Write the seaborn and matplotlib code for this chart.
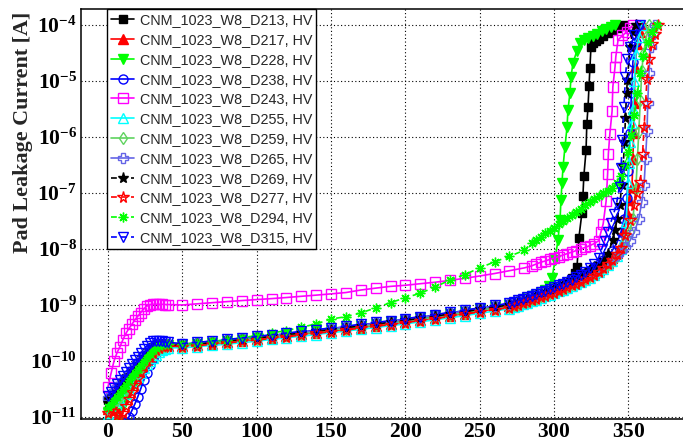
import matplotlib
matplotlib.use("Agg")
import matplotlib.pyplot as plt
from matplotlib.ticker import MultipleLocator, LogLocator, FixedLocator, FuncFormatter, NullFormatter
import numpy as np
import pandas as pd
import seaborn as sns

# ---------------------------------------------------------------------------
# Bias voltage grids [V]: fine ramp up to full depletion, then 10 V steps
# ---------------------------------------------------------------------------
LOW_V = [0, 2, 4, 6, 8, 10, 12, 14, 16, 18, 20, 22, 24, 26, 28, 30, 32, 34, 36, 38, 40]
MID_V = [50, 60, 70, 80, 90, 100, 110, 120, 130, 140, 150, 160, 170, 180, 190, 200,
         210, 220, 230, 240, 250, 260]

# Pad leakage current [A]; *_tail holds (bias, current) pairs up to compliance
d213_low = [2.0e-11, 2.3e-11, 2.7e-11, 3.1e-11, 3.6e-11, 4.2e-11, 4.9e-11, 5.7e-11, 6.6e-11, 7.7e-11,
            9.0e-11, 1.05e-10, 1.2e-10, 1.4e-10, 1.6e-10, 1.8e-10, 1.95e-10, 2.0e-10, 1.95e-10, 1.95e-10, 1.95e-10]
d213_mid = [1.95e-10, 2.05e-10, 2.17e-10, 2.3e-10, 2.45e-10, 2.62e-10, 2.8e-10, 3.0e-10, 3.22e-10, 3.45e-10,
            3.7e-10, 4.0e-10, 4.3e-10, 4.65e-10, 5.0e-10, 5.4e-10, 5.9e-10, 6.4e-10, 7.0e-10, 7.7e-10, 8.5e-10, 9.4e-10]
d213_tail = [(270, 1.03e-9), (273, 1.1e-9), (276, 1.17e-9), (279, 1.25e-9), (282, 1.33e-9), (285, 1.42e-9),
             (288, 1.52e-9), (291, 1.63e-9), (294, 1.75e-9), (297, 1.88e-9), (300, 2.02e-9), (303, 2.18e-9),
             (306, 2.37e-9), (309, 2.6e-9), (312, 3.0e-9), (314, 3.7e-9), (315.4, 4.8e-9), (316.7, 1.6e-8),
             (318.7, 4.4e-8), (319.4, 9.0e-8), (320, 2.0e-7), (321.5, 5.8e-7), (322, 1.7e-6), (322.8, 3.4e-6),
             (323.5, 8.3e-6), (324.1, 1.7e-5), (324.8, 4.1e-5), (326, 4.7e-5), (328, 5.1e-5), (330, 5.6e-5),
             (333, 6.3e-5), (336, 7.1e-5), (339, 8.0e-5), (342, 8.8e-5), (344.5, 9.5e-5), (346.3, 1.0e-4)]

d217_low = [1.4e-11, 1.6e-11, 1.9e-11, 2.2e-11, 2.6e-11, 3.0e-11, 3.5e-11, 4.1e-11, 4.8e-11, 5.6e-11,
            6.6e-11, 7.7e-11, 9.0e-11, 1.05e-10, 1.2e-10, 1.38e-10, 1.55e-10, 1.7e-10, 1.8e-10, 1.85e-10, 1.85e-10]
d217_mid = [1.85e-10, 1.93e-10, 2.03e-10, 2.15e-10, 2.28e-10, 2.43e-10, 2.6e-10, 2.78e-10, 2.98e-10, 3.2e-10,
            3.43e-10, 3.68e-10, 3.95e-10, 4.25e-10, 4.58e-10, 4.95e-10, 5.38e-10, 5.85e-10, 6.4e-10, 7.0e-10, 7.7e-10, 8.5e-10]
d217_tail = [(270, 9.4e-10), (273, 1.0e-9), (276, 1.06e-9), (279, 1.13e-9), (282, 1.2e-9), (285, 1.28e-9),
             (288, 1.37e-9), (291, 1.46e-9), (294, 1.56e-9), (297, 1.67e-9), (300, 1.79e-9), (303, 1.92e-9),
             (306, 2.06e-9), (309, 2.22e-9), (312, 2.4e-9), (315, 2.6e-9), (318, 2.83e-9), (321, 3.1e-9),
             (324, 3.4e-9), (327, 3.75e-9), (330, 4.2e-9), (333, 4.8e-9), (336, 5.6e-9), (339, 6.8e-9),
             (342, 8.6e-9), (345, 1.2e-8), (347, 2.2e-8), (349, 4.4e-8), (350.5, 7.5e-8), (352.4, 1.3e-7),
             (353, 4e-7), (353.5, 1.2e-6), (354, 4e-6), (354.4, 1.8e-5), (356, 4.5e-5), (358, 7.5e-5), (360, 1e-4)]

d228_low = [1.2e-11, 1.3e-11, 1.5e-11, 1.2e-11, 8e-12, 1.6e-11, 2.2e-11, 2.8e-11, 3.5e-11, 4.3e-11,
            5.3e-11, 6.4e-11, 7.7e-11, 9.2e-11, 1.1e-10, 1.28e-10, 1.47e-10, 1.65e-10, 1.8e-10, 1.9e-10, 1.9e-10]
d228_mid = [1.9e-10, 2.0e-10, 2.12e-10, 2.25e-10, 2.4e-10, 2.56e-10, 2.74e-10, 2.93e-10, 3.15e-10, 3.38e-10,
            3.63e-10, 3.9e-10, 4.2e-10, 4.52e-10, 4.88e-10, 5.28e-10, 5.75e-10, 6.28e-10, 6.9e-10, 7.6e-10, 8.4e-10, 9.3e-10]
d228_tail = [(270, 1.0e-9), (273, 1.07e-9), (276, 1.15e-9), (279, 1.23e-9), (282, 1.32e-9), (285, 1.42e-9),
             (288, 1.53e-9), (291, 1.67e-9), (294, 1.85e-9), (296.5, 2.2e-9), (298.6, 3.0e-9), (300.6, 6.3e-9),
             (302.6, 1.45e-8), (304, 3.3e-8), (304.6, 7.4e-8), (305.3, 1.5e-7), (306, 2.9e-7), (307.3, 6.6e-7),
             (308.7, 1.5e-6), (309.3, 3.0e-6), (310.7, 6.2e-6), (311.4, 1.2e-5), (312.7, 2.1e-5), (315.4, 3.5e-5),
             (317.4, 4.8e-5), (320, 5.3e-5), (323, 5.8e-5), (326, 6.4e-5), (329, 7.0e-5), (332, 7.7e-5),
             (335, 8.4e-5), (338, 9.2e-5), (341, 1.0e-4)]

d238_low = [6e-12, 6e-12, 6e-12, 6e-12, 6e-12, 6e-12, 8e-12, 1.0e-11, 1.3e-11, 1.7e-11,
            2.3e-11, 3.2e-11, 4.5e-11, 6.2e-11, 8.5e-11, 1.1e-10, 1.4e-10, 1.7e-10, 1.9e-10, 2.0e-10, 2.0e-10]
d238_mid = [2.0e-10, 2.1e-10, 2.22e-10, 2.36e-10, 2.51e-10, 2.68e-10, 2.87e-10, 3.07e-10, 3.3e-10, 3.54e-10,
            3.8e-10, 4.1e-10, 4.42e-10, 4.77e-10, 5.15e-10, 5.58e-10, 6.05e-10, 6.6e-10, 7.25e-10, 7.95e-10, 8.75e-10, 9.6e-10]
d238_tail = [(270, 1.05e-9), (273, 1.12e-9), (276, 1.19e-9), (279, 1.27e-9), (282, 1.35e-9), (285, 1.44e-9),
             (288, 1.54e-9), (291, 1.65e-9), (294, 1.77e-9), (297, 1.9e-9), (300, 2.04e-9), (303, 2.2e-9),
             (306, 2.37e-9), (309, 2.56e-9), (312, 2.78e-9), (315, 3.05e-9), (318, 3.35e-9), (321, 3.7e-9),
             (324, 4.15e-9), (327, 4.7e-9), (330, 5.4e-9), (333, 6.3e-9), (336, 7.5e-9), (339, 9.3e-9),
             (342, 1.25e-8), (345, 2.0e-8), (347, 3.5e-8), (349, 8e-8), (350, 2.5e-7), (351, 1.2e-6),
             (352, 6e-6), (353, 2.2e-5), (355, 5e-5), (357, 1e-4)]

d243_low = [3.5e-11, 6.0e-11, 1.0e-10, 1.4e-10, 1.8e-10, 2.4e-10, 3.1e-10, 3.8e-10, 4.5e-10, 5.4e-10,
            6.3e-10, 7.3e-10, 8.5e-10, 9.5e-10, 1.02e-9, 1.03e-9, 1.03e-9, 1.03e-9, 1.03e-9, 1.02e-9, 1.02e-9]
d243_mid = [1.0e-9, 1.05e-9, 1.1e-9, 1.15e-9, 1.2e-9, 1.25e-9, 1.3e-9, 1.36e-9, 1.43e-9, 1.5e-9,
            1.58e-9, 1.67e-9, 1.85e-9, 2.0e-9, 2.15e-9, 2.25e-9, 2.4e-9, 2.55e-9, 2.75e-9, 3.0e-9, 3.3e-9, 3.65e-9]
d243_tail = [(270, 4.1e-9), (280, 4.6e-9), (285, 5.0e-9), (288, 5.4e-9), (291, 5.8e-9), (294, 6.1e-9),
             (297, 6.5e-9), (300, 6.9e-9), (303, 7.3e-9), (306, 7.8e-9), (309, 8.3e-9), (312, 8.8e-9),
             (315, 9.4e-9), (318, 1.0e-8), (321, 1.07e-8), (324, 1.15e-8), (327, 1.25e-8), (330, 1.4e-8),
             (331.5, 2.0e-8), (333, 2.8e-8), (335, 7.2e-8), (336, 2.2e-7), (336.5, 5e-7), (337.5, 1.15e-6),
             (339, 2.9e-6), (339.5, 7.8e-6), (341, 1.8e-5), (341.5, 2.7e-5), (343, 5.4e-5), (346, 6.5e-5),
             (349, 7.6e-5), (351, 8.8e-5), (353, 1.0e-4)]

d255_low = [1.1e-11, 1.2e-11, 1.4e-11, 1.6e-11, 1.9e-11, 2.2e-11, 2.6e-11, 3.1e-11, 3.7e-11, 4.4e-11,
            5.2e-11, 6.2e-11, 7.4e-11, 8.8e-11, 1.02e-10, 1.15e-10, 1.3e-10, 1.43e-10, 1.55e-10, 1.65e-10, 1.72e-10]
d255_mid = [1.72e-10, 1.8e-10, 1.9e-10, 2.0e-10, 2.12e-10, 2.26e-10, 2.42e-10, 2.59e-10, 2.77e-10, 2.97e-10,
            3.19e-10, 3.43e-10, 3.68e-10, 3.96e-10, 4.27e-10, 4.6e-10, 5.0e-10, 5.43e-10, 5.92e-10, 6.47e-10, 7.1e-10, 7.8e-10]
d255_tail = [(270, 8.6e-10), (273, 9.1e-10), (276, 9.7e-10), (279, 1.03e-9), (282, 1.1e-9), (285, 1.17e-9),
             (288, 1.25e-9), (291, 1.33e-9), (294, 1.42e-9), (297, 1.52e-9), (300, 1.63e-9), (303, 1.75e-9),
             (306, 1.88e-9), (309, 2.02e-9), (312, 2.18e-9), (315, 2.36e-9), (318, 2.56e-9), (321, 2.8e-9),
             (324, 3.08e-9), (327, 3.42e-9), (330, 3.85e-9), (333, 4.4e-9), (336, 5.1e-9), (339, 6.1e-9),
             (342, 7.5e-9), (345, 1.0e-8), (347, 1.5e-8), (348.5, 3e-8), (349.7, 1.5e-7), (350.5, 3.5e-7),
             (351.3, 8e-7), (352.2, 1.8e-6), (353, 3.2e-6), (354, 1e-5), (355, 3e-5), (357, 6e-5), (359, 1e-4)]

d259_low = [1.3e-11, 1.5e-11, 1.7e-11, 2.0e-11, 2.3e-11, 2.7e-11, 3.2e-11, 3.8e-11, 4.5e-11, 5.3e-11,
            6.3e-11, 7.4e-11, 8.7e-11, 1.02e-10, 1.18e-10, 1.35e-10, 1.52e-10, 1.68e-10, 1.8e-10, 1.88e-10, 1.9e-10]
d259_mid = [1.88e-10, 1.97e-10, 2.08e-10, 2.2e-10, 2.34e-10, 2.5e-10, 2.67e-10, 2.86e-10, 3.07e-10, 3.3e-10,
            3.54e-10, 3.8e-10, 4.08e-10, 4.4e-10, 4.75e-10, 5.13e-10, 5.57e-10, 6.07e-10, 6.63e-10, 7.28e-10, 8.0e-10, 8.85e-10]
d259_tail = [(270, 9.2e-10), (273, 9.8e-10), (276, 1.04e-9), (279, 1.11e-9), (282, 1.18e-9), (285, 1.26e-9),
             (288, 1.35e-9), (291, 1.44e-9), (294, 1.54e-9), (297, 1.65e-9), (300, 1.77e-9), (303, 1.9e-9),
             (306, 2.04e-9), (309, 2.2e-9), (312, 2.38e-9), (315, 2.58e-9), (318, 2.8e-9), (321, 3.06e-9),
             (324, 3.36e-9), (327, 3.72e-9), (330, 4.15e-9), (333, 4.7e-9), (336, 5.4e-9), (339, 6.3e-9),
             (342, 7.6e-9), (345, 9.5e-9), (348, 1.3e-8), (351, 2e-8), (353, 3.5e-8), (355, 1.2e-7),
             (356, 4e-7), (357, 1.3e-6), (358, 4.5e-6), (359, 1.5e-5), (360, 3e-5), (362, 6e-5), (364, 1e-4)]

d265_low = [2.2e-11, 2.5e-11, 2.9e-11, 3.4e-11, 3.9e-11, 4.5e-11, 5.2e-11, 6.0e-11, 7.0e-11, 8.1e-11,
            9.4e-11, 1.09e-10, 1.26e-10, 1.45e-10, 1.65e-10, 1.85e-10, 2.0e-10, 2.05e-10, 2.0e-10, 2.0e-10, 2.0e-10]
d265_mid = [1.98e-10, 2.08e-10, 2.2e-10, 2.33e-10, 2.48e-10, 2.65e-10, 2.84e-10, 3.04e-10, 3.26e-10, 3.5e-10,
            3.76e-10, 4.05e-10, 4.36e-10, 4.7e-10, 5.07e-10, 5.5e-10, 5.97e-10, 6.5e-10, 7.1e-10, 7.8e-10, 8.6e-10, 9.5e-10]
d265_tail = [(270, 1.04e-9), (273, 1.1e-9), (276, 1.17e-9), (279, 1.25e-9), (282, 1.33e-9), (285, 1.42e-9),
             (288, 1.51e-9), (291, 1.61e-9), (294, 1.72e-9), (297, 1.84e-9), (300, 1.97e-9), (303, 2.11e-9),
             (306, 2.27e-9), (309, 2.44e-9), (312, 2.63e-9), (315, 2.85e-9), (318, 3.1e-9), (321, 3.38e-9),
             (324, 3.7e-9), (327, 4.08e-9), (330, 4.55e-9), (333, 5.1e-9), (336, 5.8e-9), (339, 6.7e-9),
             (342, 7.8e-9), (345, 9.2e-9), (348, 1.1e-8), (351, 1.4e-8), (354, 2e-8), (357, 3.5e-8),
             (359, 7e-8), (360.5, 1.4e-7), (361.5, 4e-7), (362.5, 1.3e-6), (363, 4e-6), (363.8, 1.4e-5),
             (365, 4e-5), (366.5, 7e-5), (368, 1e-4)]

d269_low = [1.8e-11, 2.1e-11, 2.4e-11, 2.8e-11, 3.3e-11, 3.8e-11, 4.4e-11, 5.1e-11, 6.0e-11, 7.0e-11,
            8.2e-11, 9.6e-11, 1.12e-10, 1.3e-10, 1.5e-10, 1.7e-10, 1.85e-10, 1.95e-10, 1.95e-10, 1.9e-10, 1.9e-10]
d269_mid = [1.92e-10, 2.02e-10, 2.13e-10, 2.26e-10, 2.41e-10, 2.57e-10, 2.75e-10, 2.95e-10, 3.17e-10, 3.4e-10,
            3.65e-10, 3.93e-10, 4.23e-10, 4.56e-10, 4.92e-10, 5.33e-10, 5.8e-10, 6.32e-10, 6.92e-10, 7.6e-10, 8.38e-10, 9.25e-10]
d269_tail = [(270, 1.0e-9), (273, 1.07e-9), (276, 1.14e-9), (279, 1.22e-9), (282, 1.3e-9), (285, 1.39e-9),
             (288, 1.49e-9), (291, 1.6e-9), (294, 1.72e-9), (297, 1.85e-9), (300, 1.99e-9), (303, 2.15e-9),
             (306, 2.33e-9), (309, 2.53e-9), (312, 2.76e-9), (315, 3.02e-9), (318, 3.33e-9), (321, 3.7e-9),
             (324, 4.15e-9), (327, 4.7e-9), (330, 5.4e-9), (333, 6.4e-9), (336, 8.2e-9), (339.6, 1.45e-8),
             (341, 2.2e-8), (342.5, 3.5e-8), (344, 6e-8), (345.7, 1.4e-7), (346.5, 3e-7), (347.3, 8e-7),
             (348, 2.2e-6), (348.7, 6e-6), (349.3, 1.05e-5), (351, 4e-5), (353, 7.5e-5), (355, 1e-4)]

d277_low = [1.2e-11, 1.4e-11, 1.3e-11, 1.1e-11, 1.0e-11, 1.2e-11, 1.6e-11, 2.1e-11, 2.8e-11, 3.7e-11,
            4.9e-11, 6.3e-11, 8.0e-11, 1.0e-10, 1.2e-10, 1.4e-10, 1.58e-10, 1.72e-10, 1.82e-10, 1.85e-10, 1.85e-10]
d277_mid = [1.8e-10, 1.88e-10, 1.98e-10, 2.1e-10, 2.23e-10, 2.37e-10, 2.53e-10, 2.71e-10, 2.9e-10, 3.11e-10,
            3.34e-10, 3.59e-10, 3.86e-10, 4.16e-10, 4.48e-10, 4.85e-10, 5.27e-10, 5.73e-10, 6.25e-10, 6.85e-10, 7.52e-10, 8.3e-10]
d277_tail = [(270, 9.0e-10), (273, 9.5e-10), (276, 1.01e-9), (279, 1.07e-9), (282, 1.14e-9), (285, 1.21e-9),
             (288, 1.29e-9), (291, 1.37e-9), (294, 1.46e-9), (297, 1.56e-9), (300, 1.67e-9), (303, 1.79e-9),
             (306, 1.92e-9), (309, 2.07e-9), (312, 2.23e-9), (315, 2.41e-9), (318, 2.62e-9), (321, 2.86e-9),
             (324, 3.14e-9), (327, 3.46e-9), (330, 3.9e-9), (333, 4.5e-9), (336, 5.3e-9), (339, 6.4e-9),
             (342, 8.0e-9), (345, 1.05e-8), (348, 1.8e-8), (351, 3.3e-8), (354, 6e-8), (356, 1e-7),
             (358, 1.6e-7), (359.5, 5e-7), (360.5, 1.5e-6), (361.5, 4e-6), (362.5, 1.1e-5), (364, 2.5e-5),
             (366, 4.5e-5), (368, 7e-5), (370, 1e-4)]

d294_low = [1.5e-11, 1.7e-11, 2.0e-11, 2.3e-11, 2.7e-11, 3.2e-11, 3.8e-11, 4.5e-11, 5.3e-11, 6.2e-11,
            7.3e-11, 8.6e-11, 1.0e-10, 1.17e-10, 1.35e-10, 1.55e-10, 1.72e-10, 1.87e-10, 1.95e-10, 2.0e-10, 2.0e-10]
d294_mid = [2.0e-10, 2.1e-10, 2.25e-10, 2.4e-10, 2.6e-10, 2.85e-10, 3.15e-10, 3.5e-10, 4.0e-10, 4.6e-10,
            5.6e-10, 6.2e-10, 7.2e-10, 8.9e-10, 1.1e-9, 1.35e-9, 1.62e-9, 2.1e-9, 2.8e-9, 3.5e-9, 4.6e-9, 5.9e-9]
d294_tail = [(270, 7.4e-9), (280, 9.5e-9), (285, 1.3e-8), (288, 1.45e-8), (291, 1.66e-8), (294, 1.9e-8),
             (297, 2.1e-8), (300, 2.4e-8), (303, 2.75e-8), (306, 3.1e-8), (309, 3.6e-8), (312, 4.1e-8),
             (315, 4.6e-8), (318, 5.2e-8), (321, 6.0e-8), (324, 6.8e-8), (327, 7.7e-8), (330, 8.8e-8),
             (333, 1.0e-7), (336, 1.1e-7), (339, 1.25e-7), (342, 1.5e-7), (345, 2.0e-7), (348, 3.2e-7),
             (350, 5.5e-7), (352, 1.1e-6), (354, 2.5e-6), (356, 6e-6), (358, 1.4e-5), (360, 2.8e-5),
             (363, 5e-5), (366, 7.5e-5), (369, 1e-4)]

d315_low = [2.4e-11, 2.8e-11, 3.3e-11, 3.9e-11, 4.6e-11, 5.4e-11, 6.4e-11, 7.5e-11, 8.8e-11, 1.03e-10,
            1.2e-10, 1.4e-10, 1.62e-10, 1.85e-10, 2.1e-10, 2.25e-10, 2.3e-10, 2.3e-10, 2.25e-10, 2.2e-10, 2.15e-10]
d315_mid = [2.05e-10, 2.15e-10, 2.28e-10, 2.42e-10, 2.58e-10, 2.75e-10, 2.95e-10, 3.15e-10, 3.38e-10, 3.62e-10,
            3.9e-10, 4.2e-10, 4.52e-10, 4.88e-10, 5.25e-10, 5.7e-10, 6.2e-10, 6.75e-10, 7.4e-10, 8.1e-10, 8.9e-10, 9.8e-10]
d315_tail = [(270, 1.08e-9), (273, 1.15e-9), (276, 1.22e-9), (279, 1.3e-9), (282, 1.38e-9), (285, 1.47e-9),
             (288, 1.57e-9), (291, 1.68e-9), (294, 1.8e-9), (297, 1.93e-9), (300, 2.07e-9), (303, 2.23e-9),
             (306, 2.4e-9), (309, 2.6e-9), (312, 2.85e-9), (315, 3.15e-9), (318, 3.5e-9), (321, 3.95e-9),
             (324, 4.6e-9), (327, 5.5e-9), (330, 7.0e-9), (332, 1.0e-8), (334, 1.4e-8), (336, 2.0e-8),
             (338, 2.9e-8), (340, 4.2e-8), (342, 6.5e-8), (344, 1.3e-7), (345, 2.8e-7), (346, 9e-7),
             (347, 3.5e-6), (348, 1.2e-5), (349, 2.5e-5), (351, 4e-5), (354, 6.5e-5), (358, 1e-4)]

devices = ["D213", "D217", "D228", "D238", "D243", "D255",
           "D259", "D265", "D269", "D277", "D294", "D315"]
series_data = [
    (d213_low, d213_mid, d213_tail), (d217_low, d217_mid, d217_tail),
    (d228_low, d228_mid, d228_tail), (d238_low, d238_mid, d238_tail),
    (d243_low, d243_mid, d243_tail), (d255_low, d255_mid, d255_tail),
    (d259_low, d259_mid, d259_tail), (d265_low, d265_mid, d265_tail),
    (d269_low, d269_mid, d269_tail), (d277_low, d277_mid, d277_tail),
    (d294_low, d294_mid, d294_tail), (d315_low, d315_mid, d315_tail),
]

# ROOT-like colours / markers; filled flag, dashed flag, marker size
colors = ["#000000", "#ff0000", "#00ff00", "#0000ff", "#ff00ff", "#00ffff",
          "#5fd35f", "#6464e6", "#000000", "#ff0000", "#00ff00", "#0000ff"]
markers = ["s", "^", "v", "o", "s", "^", "d", "P", "*", "*", (8, 2, 0), "v"]
filled = [True, True, True, False, False, False, False, False, True, False, False, False]
dashed = [False] * 8 + [True] * 4
msizes = [5.8, 6.5, 6.5, 6.5, 6.5, 6.5, 6.5, 6.5, 8.0, 8.5, 7.0, 6.5]

labels = [f"CNM_1023_W8_{d}, HV" for d in devices]

rows = []
for lab, (low, mid, tail) in zip(labels, series_data):
    for v, i in zip(LOW_V, low):
        rows.append((lab, v, i))
    for v, i in zip(MID_V, mid):
        rows.append((lab, v, i))
    for v, i in tail:
        rows.append((lab, v, i))
df = pd.DataFrame(rows, columns=["device", "bias", "current"])

# ---------------------------------------------------------------------------
sns.set_theme(style="white")
plt.rcParams["font.family"] = ["Liberation Sans", "DejaVu Sans"]
plt.rcParams["mathtext.fontset"] = "custom"
plt.rcParams["mathtext.rm"] = "Liberation Serif:bold"
plt.rcParams["mathtext.it"] = "Liberation Serif:bold"
plt.rcParams["mathtext.bf"] = "Liberation Serif:bold"

W, H = 683, 443
fig = plt.figure(figsize=(W / 100, H / 100), dpi=100)
ax = fig.add_axes([81 / W, 1 - 419 / H, (W - 81) / W, (419 - 9) / H])

for k, lab in enumerate(labels):
    sub = df[df["device"] == lab]
    c = colors[k]
    sns.lineplot(data=sub, x="bias", y="current", ax=ax, color=c,
                 marker=markers[k], markersize=msizes[k],
                 markerfacecolor=(c if filled[k] else "none"),
                 markeredgecolor=c, markeredgewidth=1.0,
                 linewidth=1.2, estimator=None, sort=False,
                 errorbar=None, legend=False, zorder=3 + k)
    line = ax.lines[-1]
    if dashed[k]:
        line.set_dashes([3.5, 2.5])

ax.set_yscale("log")
ax.set_xlim(-18.2, 386.7)
ax.set_ylim(10 ** -11.036, 10 ** -3.714)

# axes decoration
ax.xaxis.set_major_locator(MultipleLocator(50))
ax.xaxis.set_minor_locator(MultipleLocator(10))
ax.xaxis.set_major_formatter(FuncFormatter(lambda v, p: r"$%d$" % int(round(v))))
ax.yaxis.set_major_locator(FixedLocator([10.0 ** e for e in range(-11, -3)]))
ax.yaxis.set_minor_locator(LogLocator(base=10, subs=np.arange(2, 10), numticks=20))
ax.yaxis.set_minor_formatter(NullFormatter())
ax.yaxis.set_major_formatter(FuncFormatter(lambda v, p: r"$10^{%d}$" % int(round(np.log10(v)))))

ax.tick_params(which="both", direction="in", top=False, right=False, colors="black")
ax.tick_params(which="major", length=8.5, width=1.0, labelsize=15.5)
ax.tick_params(which="minor", length=4.5, width=1.0)
ax.tick_params(axis="x", which="major", pad=1.5)
ax.tick_params(axis="y", which="major", pad=3)

ax.grid(True, which="major", color="black", linestyle=(0, (1, 2.2)), linewidth=0.8)
ax.set_axisbelow(True)
for side in ["left", "bottom", "top"]:
    ax.spines[side].set_color("black")
    ax.spines[side].set_linewidth(1.1)
ax.spines["right"].set_visible(False)
ax.set_xlabel("")
ax.set_ylabel("")

fig.text(23.5 / W, 1 - 12 / H, "Pad Leakage Current [A]", rotation=90, ha="center", va="top",
         fontsize=15.8, fontweight="bold", family="Liberation Serif")

leg = ax.legend(ax.lines[:len(labels)], labels, loc="upper left",
                bbox_to_anchor=(26 / (W - 81), 1.0), frameon=True, fancybox=False,
                shadow=False, framealpha=1, edgecolor="black", fontsize=10.4,
                handlelength=1.6, handletextpad=0.35, borderpad=0.3,
                labelspacing=0.4, borderaxespad=0, numpoints=1)
leg.get_frame().set_linewidth(1.0)
leg.set_zorder(20)

fig.savefig("out.png", dpi=100)
